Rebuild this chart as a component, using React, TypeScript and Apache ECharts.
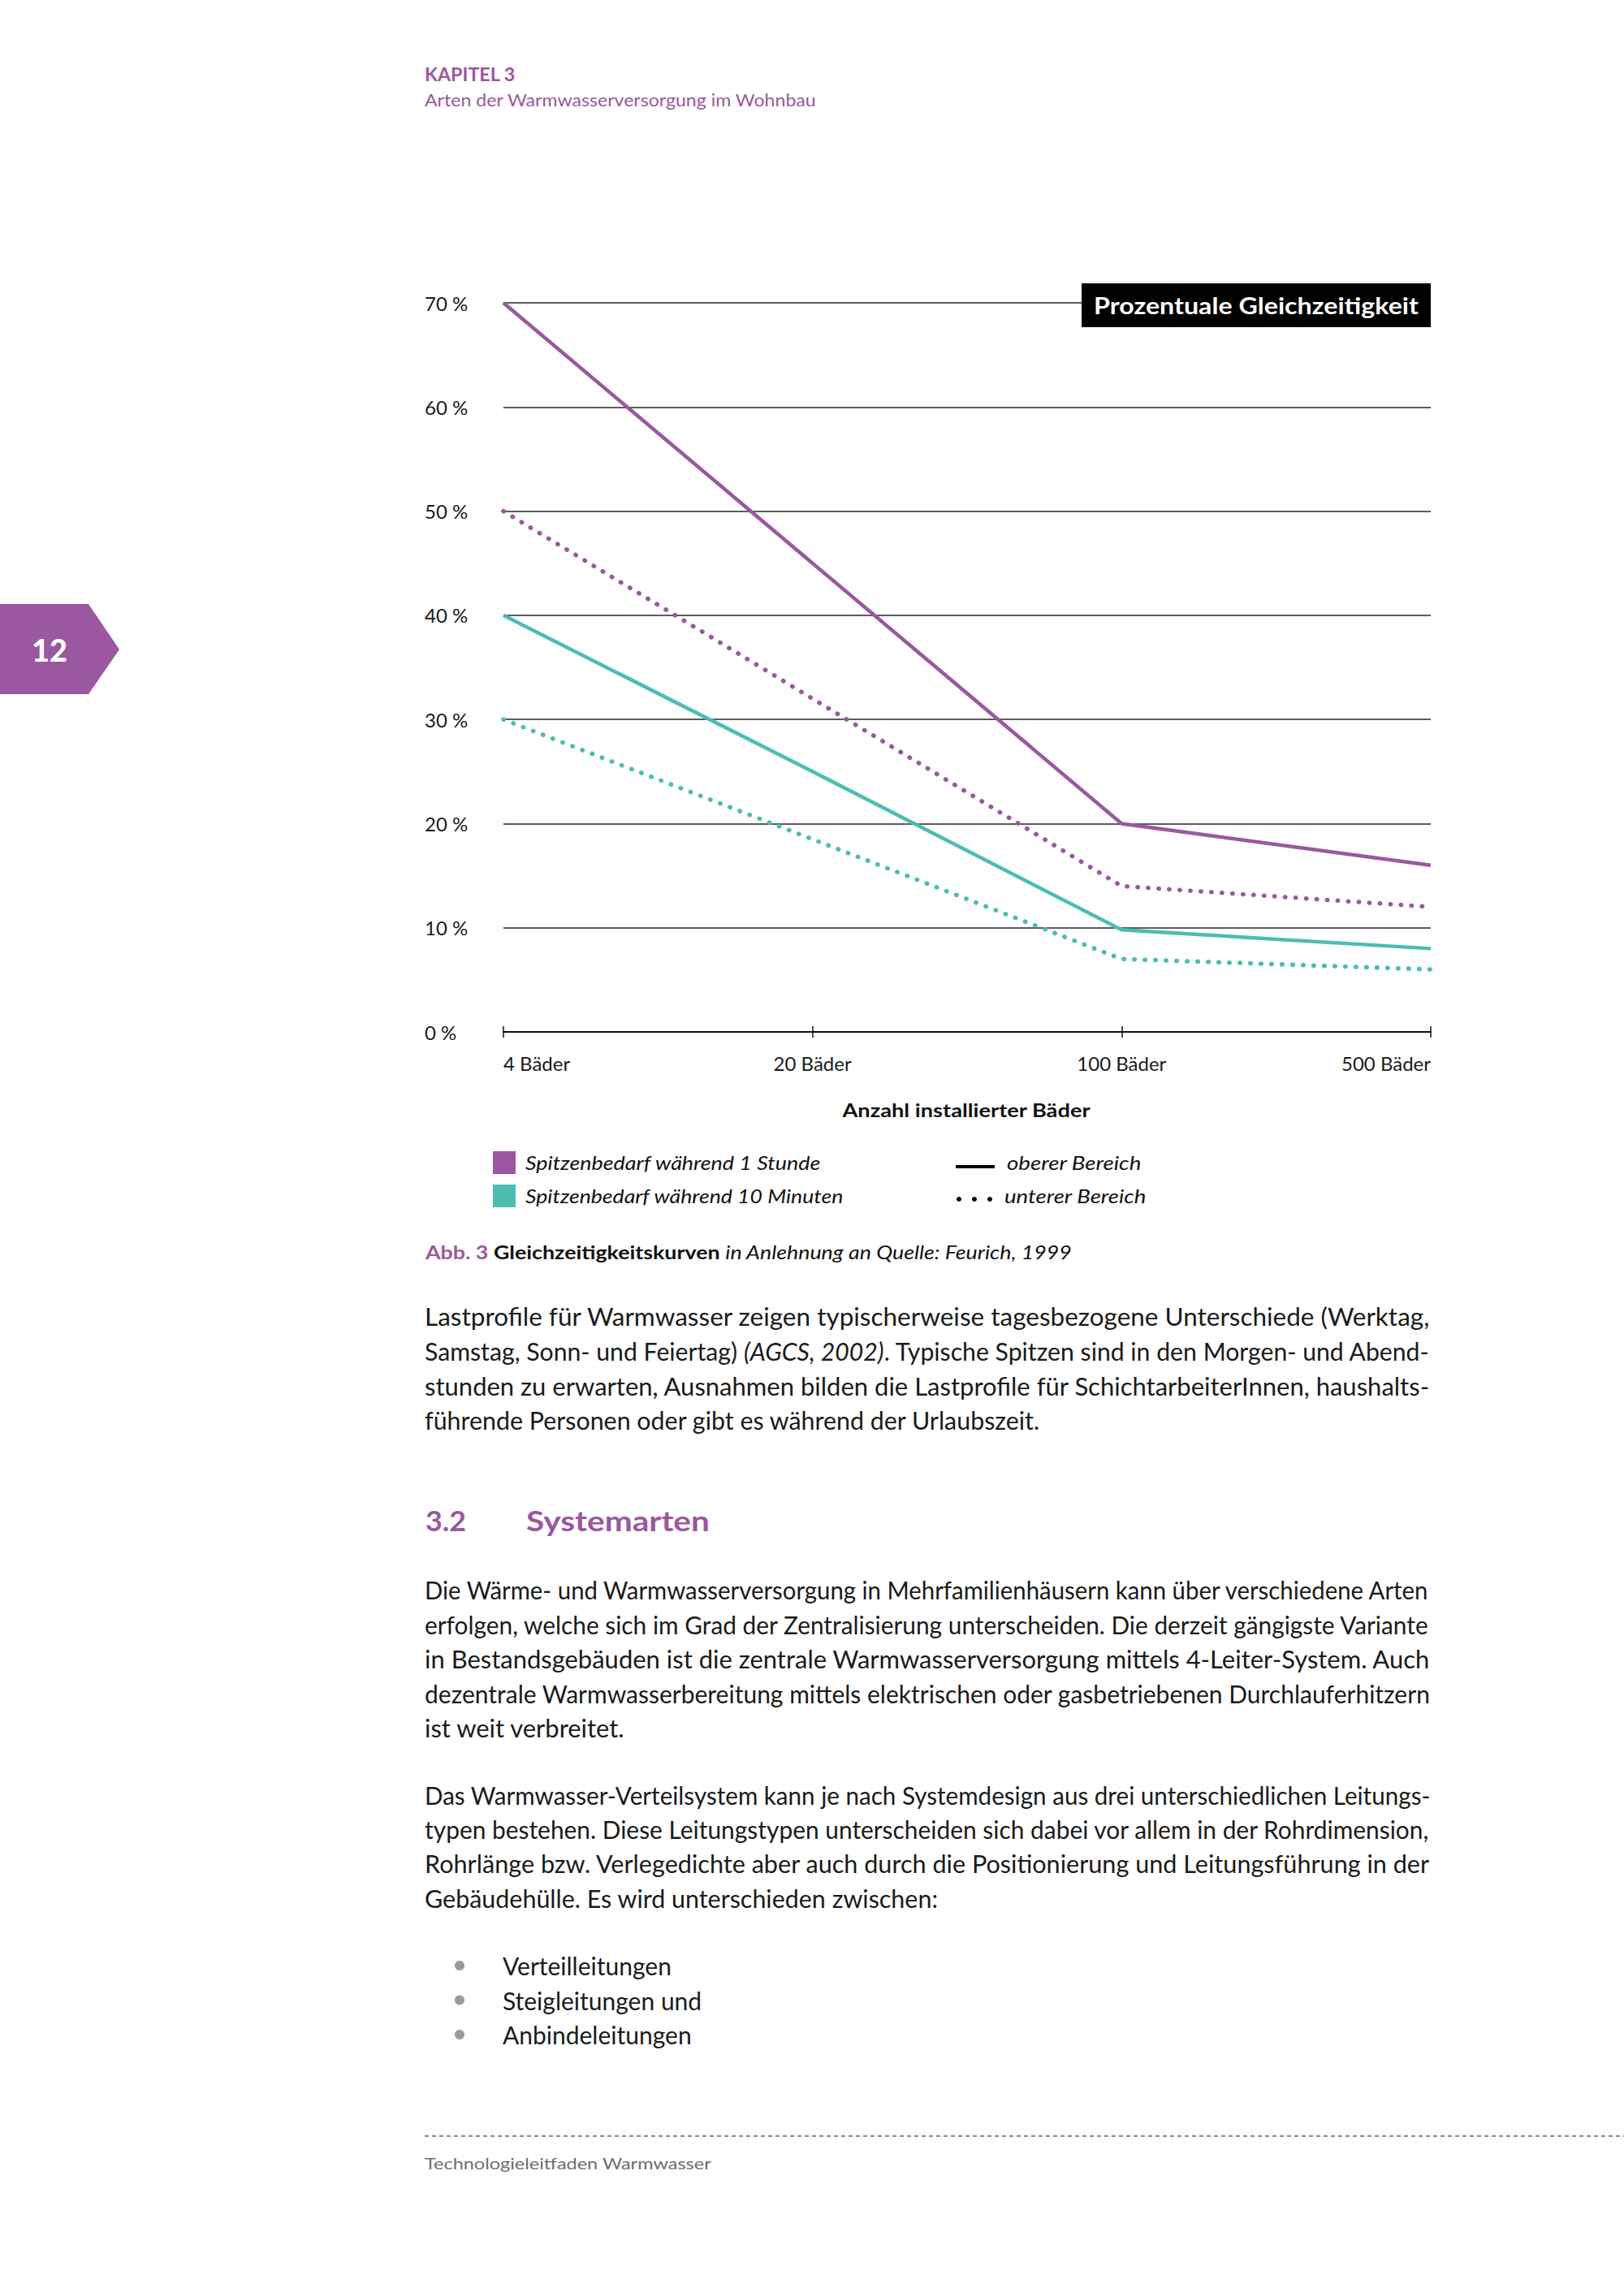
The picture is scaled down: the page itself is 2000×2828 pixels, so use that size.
import React, { useEffect, useRef } from 'react';
import * as echarts from 'echarts';

const PURPLE = '#9b57a0';
const TEAL = '#4dbdb4';
const FONT = 'Lato';

// ---- chart data ----
const categories = ['4 Bäder', '20 Bäder', '100 Bäder', '500 Bäder'];
const spitze1hOben = [70, 45, 20, 16];
const spitze1hUnten = [50, 32, 14, 12];
const spitze10minOben = [40, 25, 9.8, 8];
const spitze10minUnten = [30, 18.5, 7, 6];
const yMin = 0;
const yMax = 70;
const yStep = 10;

const chartTitle = 'Prozentuale Gleichzeitigkeit';
const xAxisName = 'Anzahl installierter Bäder';
const legendColorLabels = ['Spitzenbedarf während 1 Stunde', 'Spitzenbedarf während 10 Minuten'];
const legendStyleLabels = ['oberer Bereich', 'unterer Bereich'];

// ---- page texts ----
const headerKapitel = 'KAPITEL 3';
const headerTitle = 'Arten der Warmwasserversorgung im Wohnbau';
const pageNumber = '12';
const captionParts = ['Abb. 3 ', 'Gleichzeitigkeitskurven ', 'in Anlehnung an Quelle: Feurich, 1999'];

type Seg = { t: string; i?: boolean };
type Line = { segs: Seg[]; w: number };
const JW = 1239;

const paragraph1: Line[] = [
  { segs: [{ t: 'Lastprofile für Warmwasser zeigen typischerweise tagesbezogene Unterschiede (Werktag,' }], w: JW },
  { segs: [{ t: 'Samstag, Sonn- und Feiertag) ' }, { t: '(AGCS, 2002)', i: true }, { t: '. Typische Spitzen sind in den Morgen- und Abend-' }], w: JW },
  { segs: [{ t: 'stunden zu erwarten, Ausnahmen bilden die Lastprofile für SchichtarbeiterInnen, haushalts-' }], w: JW },
  { segs: [{ t: 'führende Personen oder gibt es während der Urlaubszeit.' }], w: 759 },
];
const headingNumber = '3.2';
const headingText = 'Systemarten';
const paragraph2: Line[] = [
  { segs: [{ t: 'Die Wärme- und Warmwasserversorgung in Mehrfamilienhäusern kann über verschiedene Arten' }], w: JW },
  { segs: [{ t: 'erfolgen, welche sich im Grad der Zentralisierung unterscheiden. Die derzeit gängigste Variante' }], w: JW },
  { segs: [{ t: 'in Bestandsgebäuden ist die zentrale Warmwasserversorgung mittels 4-Leiter-System. Auch' }], w: JW },
  { segs: [{ t: 'dezentrale Warmwasserbereitung mittels elektrischen oder gasbetriebenen Durchlauferhitzern' }], w: JW },
  { segs: [{ t: 'ist weit verbreitet.' }], w: 247 },
];
const paragraph3: Line[] = [
  { segs: [{ t: 'Das Warmwasser-Verteilsystem kann je nach Systemdesign aus drei unterschiedlichen Leitungs-' }], w: JW },
  { segs: [{ t: 'typen bestehen. Diese Leitungstypen unterscheiden sich dabei vor allem in der Rohrdimension,' }], w: JW },
  { segs: [{ t: 'Rohrlänge bzw. Verlegedichte aber auch durch die Positionierung und Leitungsführung in der' }], w: JW },
  { segs: [{ t: 'Gebäudehülle. Es wird unterschieden zwischen:' }], w: 633 },
];
const bulletItems = ['Verteilleitungen', 'Steigleitungen und', 'Anbindeleitungen'];
const footerText = 'Technologieleitfaden Warmwasser';

// ---- helpers ----
let ctx: CanvasRenderingContext2D | null = null;
function measure(text: string, size: number, weight: string | number = 'normal', italic = false) {
  if (!ctx) ctx = document.createElement('canvas').getContext('2d');
  if (!ctx) return text.length * size * 0.5;
  ctx.font = `${italic ? 'italic ' : ''}${weight} ${size}px ${FONT}`;
  return ctx.measureText(text).width;
}

function fitText(
  text: string, x: number, y: number, size: number, target: number | null,
  o: { weight?: string; italic?: boolean; color?: string; align?: string } = {}
) {
  const weight = o.weight || 'normal';
  const italic = !!o.italic;
  const w = measure(text, size, weight, italic);
  const s = target ? target / w : 1;
  return {
    type: 'text', x, y, scaleX: s, z: 10,
    style: {
      text, fontSize: size, fontFamily: FONT, fontWeight: weight,
      fontStyle: italic ? 'italic' : 'normal', fill: o.color || '#1a1a1a',
      textAlign: o.align || 'left', align: o.align || 'left',
      textVerticalAlign: 'middle', verticalAlign: 'middle',
    },
  };
}

function richLine(line: Line, x: number, y: number, size: number, color: string) {
  let total = 0;
  let text = '';
  line.segs.forEach((sg) => {
    total += measure(sg.t, size, 'normal', !!sg.i);
    text += `{${sg.i ? 'i' : 'n'}|${sg.t}}`;
  });
  const s = line.w / total;
  const base = { fontSize: size, fontFamily: FONT, fill: color, color };
  return {
    type: 'text', x, y, scaleX: s, z: 10,
    style: {
      text, fontSize: size, fontFamily: FONT, fill: color,
      textAlign: 'left', align: 'left', textVerticalAlign: 'middle', verticalAlign: 'middle',
      rich: {
        n: { ...base, fontStyle: 'normal' },
        i: { ...base, fontStyle: 'italic' },
      },
    },
  };
}

function paragraph(lines: Line[], x: number, y0: number, step: number, size: number) {
  return lines.map((l, k) => richLine(l, x, y0 + k * step, size, '#1a1a1a'));
}

export default function App() {
  const ref = useRef<HTMLDivElement>(null);
  useEffect(() => {
    document.body.style.margin = '0';
    if (!ref.current) return;
    const chart = echarts.init(ref.current, undefined, { renderer: 'svg' });

    const gridTop = 373;
    const gridBottom = 1557;
    const gridH = 2828 - gridTop - gridBottom;
    const bodySize = 30;

    const capSize = 23;
    const capW =
      measure(captionParts[0], capSize, 'bold') +
      measure(captionParts[1], capSize, 'bold') +
      measure(captionParts[2], capSize, 'normal', true);
    const caption = {
      type: 'text', x: 524, y: 1542, scaleX: 797 / capW, z: 10,
      style: {
        text: `{p|${captionParts[0]}}{b|${captionParts[1]}}{i|${captionParts[2]}}`,
        fontSize: capSize, fontFamily: FONT, fill: '#111',
        textAlign: 'left', align: 'left', textVerticalAlign: 'middle', verticalAlign: 'middle',
        rich: {
          p: { fontSize: capSize, fontFamily: FONT, fontWeight: 'bold', fill: PURPLE, color: PURPLE },
          b: { fontSize: capSize, fontFamily: FONT, fontWeight: 'bold', fill: '#111', color: '#111' },
          i: { fontSize: capSize, fontFamily: FONT, fontStyle: 'italic', fill: '#111', color: '#111' },
        },
      },
    };

    const graphic: any[] = [
      fitText(headerKapitel, 523, 92, 22, 112, { weight: 'bold', color: PURPLE }),
      fitText(headerTitle, 523, 123, 21, 483, { color: PURPLE }),
      {
        type: 'polygon', z: 5,
        shape: { points: [[0, 744], [109, 744], [147, 800], [109, 855], [0, 855]] },
        style: { fill: PURPLE },
      },
      fitText(pageNumber, 61, 800, 38, 44, { weight: '900', color: '#ffffff', align: 'center' }),
      { type: 'rect', z: 8, shape: { x: 1332, y: 349, width: 430, height: 54 }, style: { fill: '#000' } },
      fitText(chartTitle, 1547, 376, 29, 400, { weight: 'bold', color: '#ffffff', align: 'center' }),
      fitText(xAxisName, 1190, 1367, 23, 306, { weight: 'bold', color: '#111', align: 'center' }),
      { type: 'rect', z: 8, shape: { x: 607, y: 1418, width: 28, height: 28 }, style: { fill: PURPLE } },
      { type: 'rect', z: 8, shape: { x: 607, y: 1459, width: 28, height: 28 }, style: { fill: TEAL } },
      fitText(legendColorLabels[0], 647, 1432, 23, 364, { italic: true, color: '#111' }),
      fitText(legendColorLabels[1], 647, 1473, 23, 392, { italic: true, color: '#111' }),
      { type: 'line', z: 8, shape: { x1: 1177, y1: 1437, x2: 1225, y2: 1437 }, style: { stroke: '#000', lineWidth: 4 } },
      { type: 'circle', z: 8, shape: { cx: 1181, cy: 1477, r: 3 }, style: { fill: '#000' } },
      { type: 'circle', z: 8, shape: { cx: 1200, cy: 1477, r: 3 }, style: { fill: '#000' } },
      { type: 'circle', z: 8, shape: { cx: 1219, cy: 1477, r: 3 }, style: { fill: '#000' } },
      fitText(legendStyleLabels[0], 1240, 1432, 23, 166, { italic: true, color: '#111' }),
      fitText(legendStyleLabels[1], 1237, 1473, 23, 175, { italic: true, color: '#111' }),
      caption,
      ...paragraph(paragraph1, 523, 1622, 42.5, bodySize),
      fitText(headingNumber, 524, 1873, 34, 50, { weight: 'bold', color: PURPLE }),
      fitText(headingText, 648, 1873, 34, 226, { weight: 'bold', color: PURPLE }),
      ...paragraph(paragraph2, 523, 1958, 42.5, bodySize),
      ...paragraph(paragraph3, 523, 2211, 42.2, bodySize),
      ...bulletItems.flatMap((b, k) => {
        const y = 2421 + k * 42.5;
        return [
          { type: 'circle', z: 8, shape: { cx: 566, cy: y, r: 6 }, style: { fill: '#9a9a9a' } },
          fitText(b, 619, y, bodySize, null, { color: '#1a1a1a' }),
        ];
      }),
      {
        type: 'line', z: 8, shape: { x1: 523, y1: 2631, x2: 2000, y2: 2631 },
        style: { stroke: '#8a8a8a', lineWidth: 2, lineDash: [5, 4] },
      },
      fitText(footerText, 523, 2664, 20, 353, { color: '#6e6e6e' }),
    ];

    const tickStyle = { color: '#111', width: 1.5 };
    const option: any = {
      animation: false,
      backgroundColor: '#ffffff',
      grid: { left: 620, right: 238, top: gridTop, bottom: gridBottom, containLabel: false },
      xAxis: [
        {
          type: 'category', data: categories, boundaryGap: false, position: 'bottom',
          axisLine: { lineStyle: { color: '#111', width: 2 } },
          axisTick: { show: true, length: 7, lineStyle: tickStyle },
          axisLabel: {
            color: '#1a1a1a', fontSize: 24, fontFamily: FONT, margin: 26, interval: 0,
            alignMinLabel: 'left', alignMaxLabel: 'right',
          },
          splitLine: { show: false },
        },
        {
          type: 'category', data: categories, boundaryGap: false, position: 'top', offset: -gridH,
          axisLine: { show: false },
          axisTick: { show: true, length: 7, lineStyle: tickStyle },
          axisLabel: { show: false },
          splitLine: { show: false },
        },
      ],
      yAxis: {
        type: 'value', min: yMin, max: yMax, interval: yStep,
        axisLine: { show: false }, axisTick: { show: false },
        axisLabel: {
          formatter: '{value} %', align: 'left', margin: 97,
          color: '#1a1a1a', fontSize: 24, fontFamily: FONT,
        },
        splitLine: { lineStyle: { color: '#262626', width: 1.6 } },
      },
      series: [
        {
          name: legendColorLabels[0] + ' – ' + legendStyleLabels[0], type: 'line', data: spitze1hOben,
          symbol: 'none', z: 4, lineStyle: { color: PURPLE, width: 4.5 },
        },
        {
          name: legendColorLabels[0] + ' – ' + legendStyleLabels[1], type: 'line', data: spitze1hUnten,
          symbol: 'none', z: 3, lineStyle: { color: PURPLE, width: 5.5, type: [0.5, 12.5], cap: 'round' },
        },
        {
          name: legendColorLabels[1] + ' – ' + legendStyleLabels[0], type: 'line', data: spitze10minOben,
          symbol: 'none', z: 4, lineStyle: { color: TEAL, width: 4.5 },
        },
        {
          name: legendColorLabels[1] + ' – ' + legendStyleLabels[1], type: 'line', data: spitze10minUnten,
          symbol: 'none', z: 3, lineStyle: { color: TEAL, width: 5.5, type: [0.5, 12.5], cap: 'round' },
        },
      ],
      graphic,
    };
    chart.setOption(option);
    return () => chart.dispose();
  }, []);

  return (
    <div
      ref={ref}
      style={{ position: 'absolute', left: 0, top: 0, width: 2000, height: 2828, background: '#fff' }}
    />
  );
}
